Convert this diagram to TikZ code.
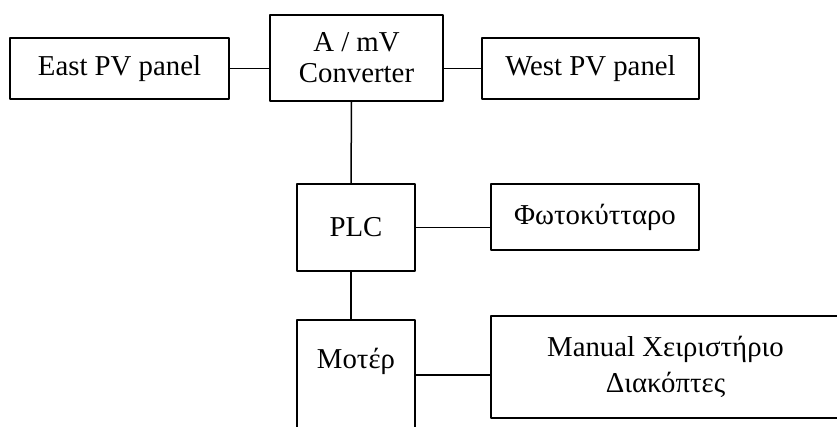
\documentclass[tikz,border=0pt]{standalone}
\usepackage{fontspec}
\setmainfont{Liberation Serif}
\usetikzlibrary{positioning}

\begin{document}
\begin{tikzpicture}[x=0.5pt,y=-0.5pt,line cap=round,line join=round,
  box/.style={draw,line width=0.75pt,inner sep=0pt,align=center,font=\fontsize{14.4}{15.5}\selectfont}]
\useasboundingbox (0,0) rectangle (837,427);
\clip (0,0) rectangle (837,427);
\node[box,minimum width=109.5pt,minimum height=30.5pt] (east) at (119.5,68.5) {East PV panel};
\node[box,minimum width=86.5pt,minimum height=43pt] (conv) at (356.5,58) {A / mV\\Converter};
\node[box,minimum width=108.5pt,minimum height=30.5pt] (west) at (590.5,68.5) {West PV panel};
\node[box,minimum width=59pt,minimum height=43.5pt] (plc) at (356,227.5) {PLC};
\node[box,minimum width=104pt,minimum height=33pt] (photo) at (595,217) {Φωτοκύτταρο};
\node[box,minimum width=59pt,anchor=base,text height=24.5pt,text depth=30.5pt] (motor) at (356,369) {Μοτέρ};
\node[box,minimum width=174.5pt,minimum height=51pt,font=\fontsize{14.4}{18}\selectfont] (manual) at (665.5,367) {Manual Χειριστήριο\\Διακόπτες};
\draw[line width=0.75pt] (east.east) -- (east.east -| conv.west);
\draw[line width=0.75pt] (west.west) -- (west.west -| conv.east);
\draw[line width=0.75pt] ([xshift=-2.5pt]conv.south) -- ([xshift=-2.5pt]plc.north);
\draw[line width=0.75pt] (plc.east) -- (plc.east -| photo.west);
\draw[line width=0.75pt] ([xshift=-2.5pt]plc.south) -- ([xshift=-2.5pt]motor.north);
\draw[line width=0.75pt] (motor.east) -- (motor.east -| manual.west);
\end{tikzpicture}
\end{document}
